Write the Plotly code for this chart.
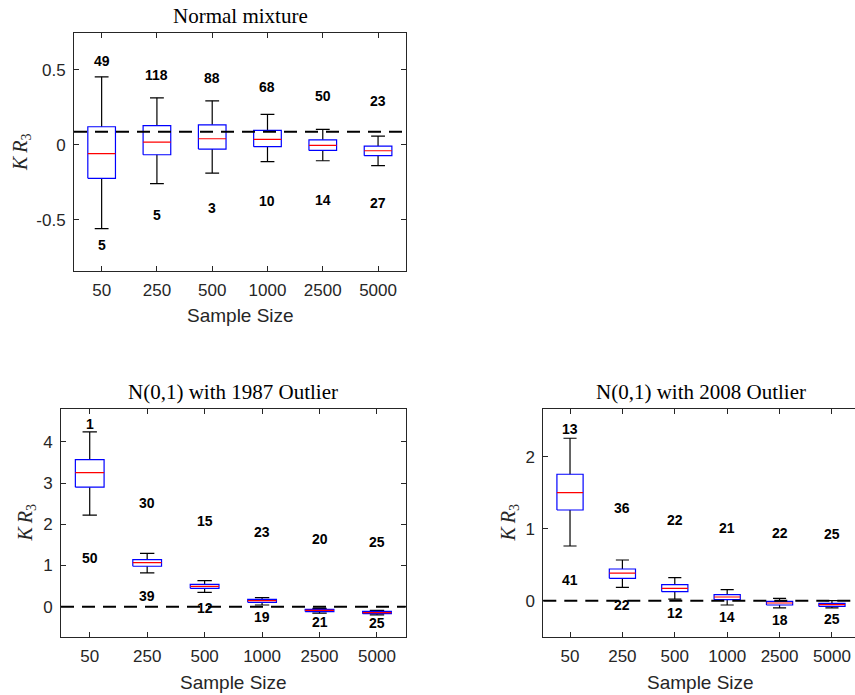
import plotly.graph_objects as go

# ---- data -----------------------------------------------------------------
sample_sizes = ["50", "250", "500", "1000", "2500", "5000"]

# Normal mixture
mix_upper = [0.453, 0.313, 0.293, 0.202, 0.102, 0.058]
mix_q3 = [0.120, 0.127, 0.133, 0.096, 0.033, -0.009]
mix_median = [-0.060, 0.018, 0.040, 0.036, -0.004, -0.040]
mix_q1 = [-0.224, -0.067, -0.029, -0.013, -0.038, -0.073]
mix_lower = [-0.560, -0.260, -0.189, -0.113, -0.107, -0.140]
mix_above_n = [49, 118, 88, 68, 50, 23]
mix_above_y = [0.558, 0.462, 0.442, 0.382, 0.322, 0.291]
mix_below_n = [5, 5, 3, 10, 14, 27]
mix_below_y = [-0.669, -0.469, -0.422, -0.376, -0.369, -0.389]
mix_ref = 0.087

# N(0,1) with 1987 outlier
o87_upper = [4.24, 1.295, 0.63, 0.22, -0.04, -0.09]
o87_q3 = [3.57, 1.14, 0.54, 0.178, -0.065, -0.113]
o87_median = [3.255, 1.07, 0.494, 0.146, -0.089, -0.146]
o87_q1 = [2.90, 0.98, 0.445, 0.105, -0.12, -0.17]
o87_lower = [2.22, 0.818, 0.348, 0.04, -0.16, -0.20]
o87_above_n = [1, 30, 15, 23, 20, 25]
o87_above_y = [4.44, 2.51, 2.08, 1.806, 1.636, 1.58]
o87_below_n = [50, 39, 12, 19, 21, 25]
o87_below_y = [1.17, 0.25, -0.03, -0.26, -0.37, -0.40]
o87_ref = 0.0

# N(0,1) with 2008 outlier
o08_upper = [2.255, 0.565, 0.32, 0.153, 0.032, 0.0]
o08_q3 = [1.755, 0.44, 0.222, 0.083, -0.01, -0.037]
o08_median = [1.50, 0.384, 0.171, 0.051, -0.032, -0.056]
o08_q1 = [1.259, 0.31, 0.125, 0.014, -0.06, -0.079]
o08_lower = [0.759, 0.185, 0.023, -0.06, -0.10, -0.10]
o08_above_n = [13, 36, 22, 21, 22, 25]
o08_above_y = [2.39, 1.287, 1.125, 1.014, 0.935, 0.92]
o08_below_n = [41, 22, 12, 14, 18, 25]
o08_below_y = [0.29, -0.065, -0.176, -0.23, -0.264, -0.26]
o08_ref = 0.0

W, H = 855, 695
BOX_HALF = 0.25
CAP_HALF = 0.125
AXIS_COLOR = "#262626"
SANS = "Liberation Sans, Arial, sans-serif"
SERIF = "Liberation Serif, Times New Roman, serif"

fig = go.Figure()


def add_panel(n, upper, q3, med, q1, lower, above_n, above_y, below_n, below_y, ref):
    xa = "x" if n == 1 else f"x{n}"
    ya = "y" if n == 1 else f"y{n}"
    wx, wy, bx, by, mx, my = [], [], [], [], [], []
    for i in range(len(med)):
        c = i + 1
        # whiskers and caps
        wx += [c, c, None, c, c, None,
               c - CAP_HALF, c + CAP_HALF, None, c - CAP_HALF, c + CAP_HALF, None]
        wy += [q3[i], upper[i], None, q1[i], lower[i], None,
               upper[i], upper[i], None, lower[i], lower[i], None]
        # box
        bx += [c - BOX_HALF, c + BOX_HALF, c + BOX_HALF, c - BOX_HALF, c - BOX_HALF, None]
        by += [q1[i], q1[i], q3[i], q3[i], q1[i], None]
        # median
        mx += [c - BOX_HALF, c + BOX_HALF, None]
        my += [med[i], med[i], None]
    fig.add_trace(go.Scatter(x=wx, y=wy, mode="lines", xaxis=xa, yaxis=ya,
                             line=dict(color="black", width=1.2), hoverinfo="skip"))
    fig.add_trace(go.Scatter(x=bx, y=by, mode="lines", xaxis=xa, yaxis=ya,
                             line=dict(color="#0000FF", width=1.2), hoverinfo="skip"))
    fig.add_trace(go.Scatter(x=mx, y=my, mode="lines", xaxis=xa, yaxis=ya,
                             line=dict(color="#FF0000", width=1.2), hoverinfo="skip"))
    # reference level
    fig.add_shape(type="line", xref=f"{xa} domain", yref=ya, x0=0, x1=1, y0=ref, y1=ref,
                  line=dict(color="black", width=2, dash="13px,8px"), layer="above")
    for i in range(len(med)):
        for cnt, yy in ((above_n[i], above_y[i]), (below_n[i], below_y[i])):
            fig.add_annotation(x=i + 1, y=yy, xref=xa, yref=ya, text=f"<b>{cnt}</b>",
                               showarrow=False, font=dict(family=SANS, size=14, color="black"))


add_panel(1, mix_upper, mix_q3, mix_median, mix_q1, mix_lower,
          mix_above_n, mix_above_y, mix_below_n, mix_below_y, mix_ref)
add_panel(2, o87_upper, o87_q3, o87_median, o87_q1, o87_lower,
          o87_above_n, o87_above_y, o87_below_n, o87_below_y, o87_ref)
add_panel(3, o08_upper, o08_q3, o08_median, o08_q1, o08_lower,
          o08_above_n, o08_above_y, o08_below_n, o08_below_y, o08_ref)


def px_x(v):
    return v / W


def px_y(v):
    return 1 - v / H


common = dict(showline=True, linecolor=AXIS_COLOR, linewidth=1, ticks="inside", ticklen=5,
              tickcolor=AXIS_COLOR, tickwidth=1, showgrid=False, zeroline=False,
              tickfont=dict(family=SANS, size=17, color=AXIS_COLOR))

xticks = dict(tickmode="array", tickvals=[1, 2, 3, 4, 5, 6], ticktext=sample_sizes)

fig.update_layout(
    width=W, height=H, margin=dict(l=0, r=0, t=0, b=0),
    paper_bgcolor="white", plot_bgcolor="white", showlegend=False,
    xaxis=dict(domain=[px_x(74), px_x(405.7)], range=[0.5, 6.5], anchor="y",
               mirror="allticks", ticklabelstandoff=4, **xticks, **common),
    yaxis=dict(domain=[px_y(271), px_y(33)], range=[-0.842, 0.745], anchor="x",
               mirror="allticks", tickvals=[-0.5, 0, 0.5], ticktext=["-0.5", "0", "0.5"],
               ticklabelstandoff=4, **common),
    xaxis2=dict(domain=[px_x(61), px_x(405.7)], range=[0.5, 6.5], anchor="y2",
                mirror="allticks", ticklabelstandoff=4, **xticks, **common),
    yaxis2=dict(domain=[px_y(636.7), px_y(409.3)], range=[-0.73, 4.79], anchor="x2",
                mirror="allticks", tickvals=[0, 1, 2, 3, 4], ticktext=["0", "1", "2", "3", "4"],
                ticklabelstandoff=4, **common),
    xaxis3=dict(domain=[px_x(543.3), 1.0], range=[0.49, 6.44], anchor="y3",
                mirror="allticks", ticklabelstandoff=4, **xticks, **common),
    yaxis3=dict(domain=[px_y(636.7), px_y(409.3)], range=[-0.5, 2.657], anchor="x3",
                mirror=False, tickvals=[0, 1, 2], ticktext=["0", "1", "2"],
                ticklabelstandoff=4, **common),
)

# panel titles, axis titles
titles = [("Normal mixture", 240, 16), ("N(0,1) with 1987 Outlier", 233.3, 392),
          ("N(0,1) with 2008 Outlier", 700.5, 392)]
for txt, cx, cy in titles:
    fig.add_annotation(x=px_x(cx), y=px_y(cy), xref="paper", yref="paper", text=txt,
                       showarrow=False, xanchor="center", yanchor="middle",
                       font=dict(family=SERIF, size=21, color="black"))

xlabels = [(240, 315), (233.3, 682), (700, 682)]
for cx, cy in xlabels:
    fig.add_annotation(x=px_x(cx), y=px_y(cy), xref="paper", yref="paper", text="Sample Size",
                       showarrow=False, xanchor="center", yanchor="middle",
                       font=dict(family=SANS, size=19, color=AXIS_COLOR))

ylabels = [(21, 152), (26, 522.5), (509, 522.5)]
for cx, cy in ylabels:
    fig.add_annotation(x=px_x(cx), y=px_y(cy), xref="paper", yref="paper",
                       text="<i>K\u2009R</i><sub>3</sub>", textangle=-90,
                       showarrow=False, xanchor="center", yanchor="middle",
                       font=dict(family=SERIF, size=20, color=AXIS_COLOR))

fig.write_html("out.html")
